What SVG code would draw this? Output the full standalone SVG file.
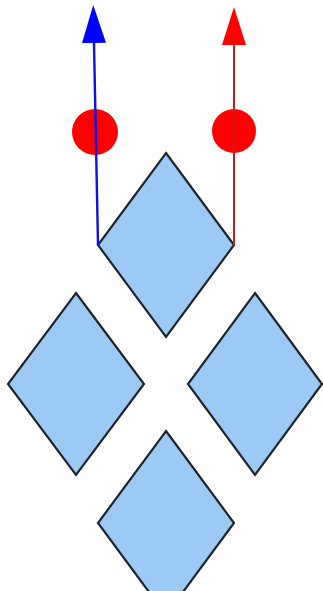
<svg xmlns="http://www.w3.org/2000/svg" width="323" height="591" viewBox="0 0 323 591">
<style>
.d{fill:#9ccaf5;stroke:#1c2530;stroke-width:2.2;stroke-linejoin:miter}
.dot{fill:#ff0000}
</style>
<defs>
<marker id="ab" markerUnits="userSpaceOnUse" markerWidth="40" markerHeight="24" refX="0" refY="12" orient="auto" viewBox="0 0 40 24"><path d="M0,0 L38,12 L0,24 Z" fill="#0000ff"/></marker>
<marker id="ar" markerUnits="userSpaceOnUse" markerWidth="40" markerHeight="24" refX="0" refY="12" orient="auto" viewBox="0 0 40 24"><path d="M0,0 L38,12 L0,24 Z" fill="#ff0000"/></marker>
</defs>
<rect width="323" height="591" fill="#ffffff"/>
<g id="n1"><polygon class="d" points="166,153 234,245 166,337 98,245"/></g>
<g id="n2"><polygon class="d" points="76,293 144,384 76,475 8,384"/></g>
<g id="n3"><polygon class="d" points="255,293 322,384 255,475 188,384"/></g>
<g id="n4"><polygon class="d" points="166,431 234,523 166,615 98,523"/></g>
<g id="dots">
<circle class="dot" cx="95" cy="132" r="23"/>
<circle class="dot" cx="234" cy="131" r="22"/>
</g>
<g id="connectors">
<line x1="98" y1="245" x2="94" y2="43" stroke="#1010e0" stroke-width="2.4" marker-end="url(#ab)"/>
<line x1="234" y1="245" x2="234" y2="45" stroke="#d01818" stroke-width="2" marker-end="url(#ar)"/>
</g>
</svg>
